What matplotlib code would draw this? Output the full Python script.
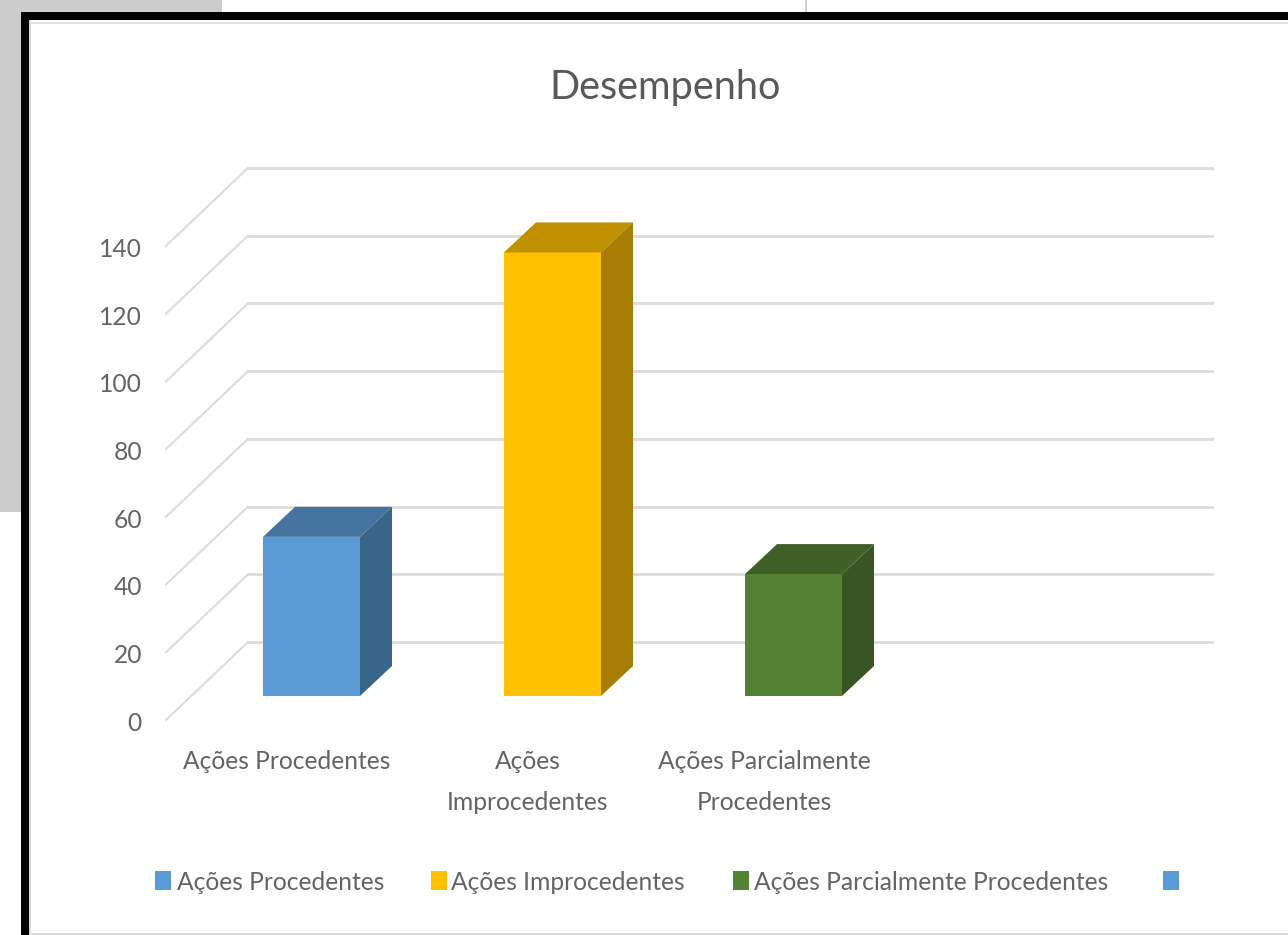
import matplotlib
matplotlib.use("Agg")
import matplotlib.pyplot as plt
from matplotlib.patches import Rectangle, Polygon

title = "Desempenho"
categories = ["Ações Procedentes", "Ações\nImprocedentes", "Ações Parcialmente\nProcedentes", ""]
legend_labels = ["Ações Procedentes", "Ações Improcedentes", "Ações Parcialmente Procedentes", ""]
values = [47, 131, 36]
yticks = [0, 20, 40, 60, 80, 100, 120, 140]
face_colors = ["#5B9BD5", "#FFC000", "#548235"]
top_colors = ["#44749F", "#BF9000", "#3F6128"]
side_colors = ["#3A658B", "#A67D00", "#375623"]
legend_colors = ["#5B9BD5", "#FFC000", "#548235", "#5B9BD5"]

W, H = 1288, 935
TXT = "#646464"
GRID = "#DCDCDC"
FONT = ["Lato", "DejaVu Sans"]
FS = 17.7
fig = plt.figure(figsize=(W / 100, H / 100), dpi=100, facecolor="white")

def px(x, y, w, h, color, z=0):
    fig.add_artist(Rectangle((x / W, 1 - (y + h) / H), w / W, h / H, transform=fig.transFigure,
                             facecolor=color, edgecolor="none", zorder=z))

# surrounding screenshot frame
px(0, 0, 222, 512, "#CCCCCC")
px(805, 0, 2, 12, "#D0D0D0")
px(30, 20, W - 30, H - 20, "white", 1)
px(30, 22, W - 30, 2, "#E2E2E2", 2)
px(29, 20, 2, H - 20, "#D8D8D8", 2)
px(30, 933, W - 30, 2, "#DDDDDD", 2)
px(21, 12, W - 21, 8, "black", 3)
px(21, 12, 8, H - 12, "black", 3)

# plot axes: front plane x 166..1130, y(0)=720; wall reaches x=1212
PX_CAT = 241.0
PX_VAL = 3.386
left, right, bottom, top = 166, 1212, 720, 168
ax = fig.add_axes([left / W, 1 - bottom / H, (right - left) / W, (bottom - top) / H], zorder=5)
ax.set_xlim(-0.5, -0.5 + (right - left) / PX_CAT)
ax.set_ylim(0, (bottom - top) / PX_VAL)
ax.patch.set_alpha(0)
ax.axis("off")

wall_dx, wall_dy = 82 / PX_CAT, 78 / PX_VAL
x0 = -0.5
x1 = 3.5
for v in yticks:
    ax.plot([x0, x0 + wall_dx], [v, v + wall_dy], color=GRID, lw=1.5, clip_on=False, zorder=1)
    ax.plot([x0 + wall_dx, x1 + wall_dx], [v + wall_dy, v + wall_dy], color=GRID, lw=2.0, clip_on=False, zorder=1)
    ax.text(x0 - 24 / PX_CAT, v - 1.0, str(v), ha="right", va="center", color=TXT,
            fontsize=FS, family=FONT)

bar_w = 97 / PX_CAT
off_x, off_y = 25 / PX_CAT, 24 / PX_VAL
dep_x, dep_y = 32 / PX_CAT, 30 / PX_VAL
for i, v in enumerate(values):
    xl = i + off_x - bar_w / 2
    xr = xl + bar_w
    yb = off_y
    yt = off_y + v
    ax.add_patch(Rectangle((xl, yb), bar_w, v, facecolor=face_colors[i], edgecolor="none", zorder=3))
    ax.add_patch(Polygon([(xl, yt), (xr, yt), (xr + dep_x, yt + dep_y), (xl + dep_x, yt + dep_y)],
                         closed=True, facecolor=top_colors[i], edgecolor="none", zorder=3))
    ax.add_patch(Polygon([(xr, yb), (xr + dep_x, yb + dep_y), (xr + dep_x, yt + dep_y), (xr, yt)],
                         closed=True, facecolor=side_colors[i], edgecolor="none", zorder=3))

for i, c in enumerate(categories):
    ax.annotate(c, xy=(i, 0), xycoords="data", xytext=(-4 if i == 2 else 0, -30),
                textcoords="offset pixels", ha="center", va="top", color=TXT, fontsize=FS,
                family=FONT, linespacing=1.95, annotation_clip=False)

fig.text(665 / W, 1 - 88 / H, title, ha="center", va="center", color="#595959", fontsize=28.5, family=FONT, zorder=6)

# legend
sq_x = [155, 431, 733, 1163]
tx_x = [177, 451, 754, 1185]
for sx, tx, lab, col in zip(sq_x, tx_x, legend_labels, legend_colors):
    px(sx, 871, 16, 19, col, 6)
    if lab:
        fig.text(tx / W, 1 - 882 / H, lab, ha="left", va="center", color=TXT, fontsize=FS, family=FONT, zorder=6)

fig.savefig("out.png", dpi=100)
